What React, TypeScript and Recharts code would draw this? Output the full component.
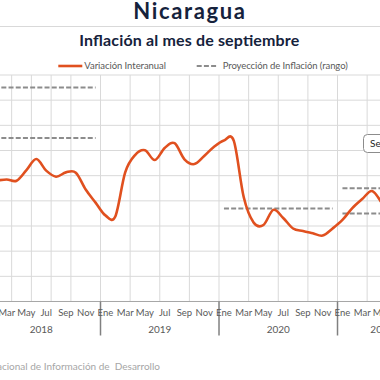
import React from 'react';
import { LineChart, Line, XAxis, YAxis, CartesianGrid } from 'recharts';

const monthNames = ['Ene', 'Feb', 'Mar', 'Abr', 'May', 'Jun', 'Jul', 'Ago', 'Sep', 'Oct', 'Nov', 'Dic'];
const yearLabels = ['2018', '2019', '2020', '2021'];
const monthsPerYear = [12, 12, 12, 9];

const inflation2018 = [null, 4.8, 4.85, 4.8, 5.22, 5.66, 5.2, 4.96, 5.13, 5.12, 4.45, 3.93];
const inflation2019 = [3.42, 3.38, 5.13, 5.82, 6.01, 5.62, 6.1, 6.29, 5.65, 5.46, 5.78, 6.15];
const inflation2020 = [6.4, 6.38, 4.15, 3.14, 3.04, 3.64, 3.32, 2.9, 2.8, 2.71, 2.62, 2.9];
const inflation2021 = [3.24, 3.71, 4.07, 4.39, 3.91, null, null, null, null];

const projHigh = [8.5, null, 3.7, 4.5];
const projLow = [6.5, null, null, 3.5];

const yTicks = [0, 1, 2, 3, 4, 5, 6, 7, 8, 9];

const FONT = 'Lato, "Open Sans", sans-serif';
const LINE_COLOR = '#E0501F';
const DASH_COLOR = '#8c8c8c';
const TEXT_GRAY = '#595959';
const NAVY = '#15223c';

const inflation: (number | null)[] = [...inflation2018, ...inflation2019, ...inflation2020, ...inflation2021];
const totalMonths = inflation.length;

const yearStarts: number[] = [];
monthsPerYear.reduce((acc, n) => {
  yearStarts.push(acc);
  return acc + n;
}, 0);
const yearCenters = monthsPerYear.map((n, i) => yearStarts[i] + n / 2);

const data = inflation.map((v, i) => {
  const yi = Math.floor(i / 12);
  const row: Record<string, number | null> = { t: i + 0.5, v };
  if (projHigh[yi] != null) row[`hi${yi}`] = projHigh[yi];
  if (projLow[yi] != null) row[`lo${yi}`] = projLow[yi];
  return row;
});

const projKeys: string[] = [];
yearLabels.forEach((_, yi) => {
  if (projHigh[yi] != null) projKeys.push(`hi${yi}`);
  if (projLow[yi] != null) projKeys.push(`lo${yi}`);
});

const labelTicks = Array.from({ length: totalMonths * 2 + 1 }, (_, i) => i / 2);
const gridTicks = Array.from({ length: totalMonths + 1 }, (_, i) => i);

// Catmull-Rom style smoothing similar to spreadsheet "smoothed line"
const smoothCurve = (context: any) => {
  let pts: number[][] = [];
  return {
    areaStart() {},
    areaEnd() {},
    lineStart() {
      pts = [];
    },
    point(x: number, y: number) {
      pts.push([+x, +y]);
    },
    lineEnd() {
      const n = pts.length;
      if (!n) return;
      context.moveTo(pts[0][0], pts[0][1]);
      for (let i = 0; i < n - 1; i++) {
        const p0 = pts[i - 1] || pts[i];
        const p1 = pts[i];
        const p2 = pts[i + 1];
        const p3 = pts[i + 2] || p2;
        context.bezierCurveTo(
          p1[0] + (p2[0] - p0[0]) / 6,
          p1[1] + (p2[1] - p0[1]) / 6,
          p2[0] - (p3[0] - p1[0]) / 6,
          p2[1] - (p3[1] - p1[1]) / 6,
          p2[0],
          p2[1]
        );
      }
    },
  };
};

const AxisTick = (props: any) => {
  const { x, y, payload } = props;
  const v = payload.value as number;
  const parts: React.ReactNode[] = [];
  if (Number.isInteger(v) && v % 12 === 0) {
    parts.push(<line key="s" x1={x} x2={x} y1={y} y2={y + 34} stroke="#808080" strokeWidth={1.5} />);
  }
  if (!Number.isInteger(v)) {
    const m = Math.floor(v) % 12;
    if (m % 2 === 0) {
      parts.push(
        <text key="m" x={x} y={y + 15} textAnchor="middle" fontSize={9.5} fontFamily={FONT} fill={TEXT_GRAY}>
          {monthNames[m]}
        </text>
      );
    }
  }
  const yi = yearCenters.indexOf(v);
  if (yi >= 0) {
    parts.push(
      <text key="y" x={x} y={y + 32} textAnchor="middle" fontSize={10} fontFamily={FONT} fill={TEXT_GRAY}>
        {yearLabels[yi]}
      </text>
    );
  }
  return <g>{parts}</g>;
};

export default function App() {
  return (
    <div
      style={{
        position: 'fixed',
        left: 0,
        top: 0,
        width: 380,
        height: 380,
        overflow: 'hidden',
        background: '#ffffff',
      }}
    >
      <div style={{ position: 'absolute', left: -18.5, top: 0 }}>
        <LineChart width={444.4} height={362} data={data} margin={{ top: 75, right: 0, bottom: 0, left: 0 }}>
          <CartesianGrid xAxisId="g" stroke="#d9d9d9" strokeWidth={1} />
          <XAxis xAxisId="g" dataKey="t" type="number" domain={[0, totalMonths]} ticks={gridTicks} hide height={0} />
          <XAxis
            xAxisId="m"
            dataKey="t"
            type="number"
            domain={[0, totalMonths]}
            ticks={labelTicks}
            interval={0}
            tickLine={false}
            tickSize={0}
            tickMargin={0}
            height={60.5}
            axisLine={{ stroke: '#a6a6a6', strokeWidth: 1 }}
            tick={<AxisTick />}
          />
          <YAxis hide domain={[0, 9]} ticks={yTicks} />
          {projKeys.map((k) => (
            <Line
              key={k}
              xAxisId="m"
              dataKey={k}
              type="linear"
              stroke={DASH_COLOR}
              strokeWidth={2}
              strokeDasharray="5 2.2"
              dot={false}
              isAnimationActive={false}
            />
          ))}
          <Line
            xAxisId="m"
            dataKey="v"
            type={smoothCurve as any}
            stroke={LINE_COLOR}
            strokeWidth={2.6}
            dot={false}
            isAnimationActive={false}
          />
        </LineChart>
      </div>
      <svg width={380} height={380} style={{ position: 'absolute', left: 0, top: 0, pointerEvents: 'none' }}>
        <text x={133.3} y={19} fontSize={22} fontWeight={700} fontFamily={FONT} fill={NAVY} textLength={111.7} lengthAdjust="spacing">
          Nicaragua
        </text>
        <line x1={0} x2={380} y1={26.5} y2={26.5} stroke="#d9d9d9" strokeWidth={1} />
        <text x={79.3} y={45.7} fontSize={16} fontWeight={700} fontFamily={FONT} fill={NAVY} textLength={220} lengthAdjust="spacing">
          Inflación al mes de septiembre
        </text>
        <line x1={58.3} x2={82.3} y1={66} y2={66} stroke={LINE_COLOR} strokeWidth={2.6} />
        <text x={84.3} y={69.3} fontSize={9.5} fontFamily={FONT} fill={TEXT_GRAY} textLength={81.7} lengthAdjust="spacing">
          Variación Interanual
        </text>
        <line x1={196.7} x2={218.3} y1={66} y2={66} stroke={DASH_COLOR} strokeWidth={2} strokeDasharray="5 2.2" />
        <text x={222.7} y={69.3} fontSize={9.5} fontFamily={FONT} fill={TEXT_GRAY} textLength={125} lengthAdjust="spacing">
          Proyección de Inflación (rango)
        </text>
        <rect x={363.5} y={134.5} width={70} height={18} rx={4} ry={4} fill="#ffffff" stroke="#8c8c8c" strokeWidth={1} />
        <text x={370} y={147} fontSize={10} fontFamily={FONT} fill="#262626">
          Sep-21
        </text>
        <text x={160} y={370} fontSize={10} fontFamily={FONT} fill="#a6a6a6" textAnchor="end" style={{ whiteSpace: 'pre' }}>
          Fuente: Sistema Nacional de Información de  Desarrollo
        </text>
      </svg>
    </div>
  );
}
